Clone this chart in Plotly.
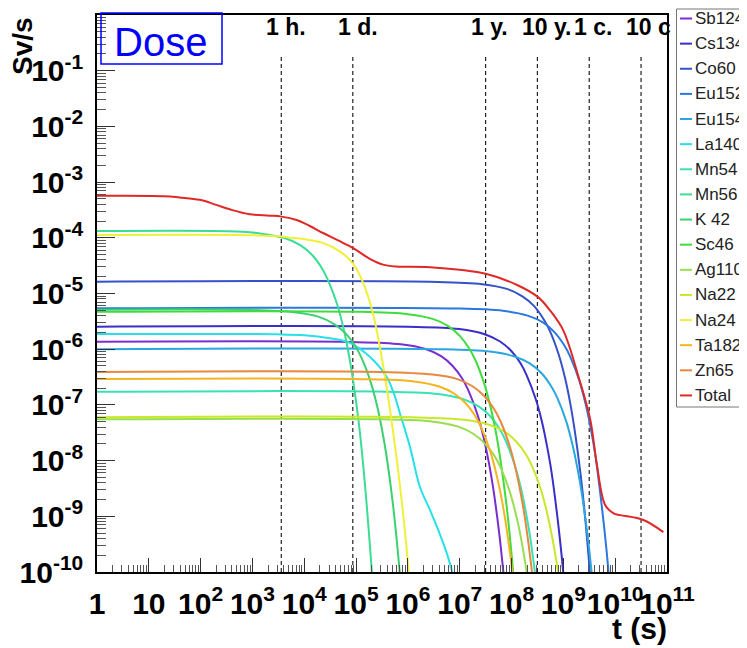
import numpy as np
import plotly.graph_objects as go

# ---------------- data ----------------
names = ["Sb124", "Cs134", "Co60", "Eu152", "Eu154", "La140", "Mn54", "Mn56",
         "K 42", "Sc46", "Ag110m", "Na22", "Na24", "Ta182", "Zn65", "Total"]
colors = ["#7a2dd0", "#3a2fc8", "#3552c8", "#2a78e0", "#2aa6e0", "#28e0e8",
          "#38e2b4", "#3cdc94", "#3cd070", "#40dc3c", "#9ade50", "#c8e82a",
          "#f0f03a", "#f5b420", "#e8883c", "#e02828"]

t_sb124 = [1, 7.3e4, 7.3e5, 2.19e6, 4.38e6, 7.3e6, 1.1e7, 1.46e7, 2.19e7, 2.92e7, 3.65e7, 4.38e7, 5.84e7, 7.3e7]
d_sb124 = [1.36e-6, 1.35e-6, 1.23e-6, 1.01e-6, 7.5e-7, 5.0e-7, 3.04e-7, 1.84e-7, 6.8e-8, 2.5e-8, 9.2e-9, 3.4e-9, 4.6e-10, 6.2e-11]

t_cs134 = [1, 9.8e5, 9.8e6, 2.94e7, 5.9e7, 9.8e7, 1.47e8, 1.96e8, 2.94e8, 3.92e8, 4.9e8, 5.9e8, 7.8e8, 9.8e8, 1.18e9]
d_cs134 = [2.54e-6, 2.53e-6, 2.3e-6, 1.88e-6, 1.39e-6, 9.4e-7, 5.7e-7, 3.4e-7, 1.26e-7, 4.7e-8, 1.71e-8, 6.3e-9, 8.5e-10, 1.15e-10, 1.6e-11]

t_co60 = [1, 2.7e6, 2.7e7, 8.1e7, 1.62e8, 2.7e8, 4.05e8, 5.4e8, 8.1e8, 1.08e9, 1.35e9, 1.62e9, 2.16e9, 2.7e9, 3.24e9, 3.78e9]
d_co60 = [1.63e-5, 1.62e-5, 1.47e-5, 1.21e-5, 8.9e-6, 6.0e-6, 3.6e-6, 2.2e-6, 8.1e-7, 3.0e-7, 1.1e-7, 4.0e-8, 5.5e-9, 7.4e-10, 1.0e-10, 1.35e-11]

t_eu152 = [1, 6.8e6, 6.8e7, 2.04e8, 4.1e8, 6.8e8, 1.02e9, 1.36e9, 2.04e9, 2.72e9, 3.4e9, 4.1e9, 5.4e9, 6.8e9, 8.2e9]
d_eu152 = [5.42e-6, 5.4e-6, 4.9e-6, 4.0e-6, 3.0e-6, 2.0e-6, 1.21e-6, 7.3e-7, 2.7e-7, 9.9e-8, 3.66e-8, 1.34e-8, 1.8e-9, 2.5e-10, 3.3e-11]

t_eu154 = [1, 3.8e6, 3.8e7, 1.14e8, 2.28e8, 3.8e8, 5.7e8, 7.6e8, 1.14e9, 1.52e9, 1.9e9, 2.28e9, 3.04e9, 3.8e9]
d_eu154 = [1.0e-6, 1.0e-6, 9.05e-7, 7.4e-7, 5.5e-7, 3.7e-7, 2.23e-7, 1.35e-7, 5.0e-8, 1.83e-8, 6.7e-9, 2.5e-9, 3.4e-10, 4.6e-11]

t_la140 = [1, 3e3, 1e4, 3.1e4, 7.6e4, 1.84e5, 3.87e5, 5.5e5, 7e5, 1.09e6, 1.7e6, 2.66e6, 3.85e6, 5.6e6, 6.5e6, 7.6e6]
d_la140 = [1.87e-6, 1.85e-6, 1.78e-6, 1.57e-6, 1.3e-6, 7.3e-7, 3.2e-7, 1.5e-7, 7.1e-8, 1.8e-8, 3.4e-9, 1.3e-9, 5.7e-10, 2.2e-10, 1.4e-10, 8e-11]

t_mn54 = [1, 3.8e5, 3.8e6, 1.14e7, 2.28e7, 3.8e7, 5.7e7, 7.6e7, 1.14e8, 1.52e8, 1.9e8, 2.28e8, 3.04e8]
d_mn54 = [1.73e-7, 1.72e-7, 1.57e-7, 1.28e-7, 9.5e-8, 6.4e-8, 3.9e-8, 2.34e-8, 8.6e-9, 3.2e-9, 1.16e-9, 4.3e-10, 5.8e-11]

t_mn56 = [1, 500, 1400, 4300, 8500, 1.42e4, 2.13e4, 2.84e4, 4.26e4, 5.7e4, 7.1e4, 8.5e4, 1.14e5, 1.42e5, 1.7e5, 2.0e5, 2.3e5]
d_mn56 = [1.32e-4, 1.3e-4, 1.2e-4, 9.8e-5, 7.3e-5, 4.9e-5, 2.95e-5, 1.78e-5, 6.6e-6, 2.4e-6, 8.9e-7, 3.3e-7, 4.4e-8, 5.9e-9, 8.1e-10, 1.1e-10, 1.5e-11]

t_k42 = [1, 640, 6.4e3, 1.92e4, 3.84e4, 6.4e4, 9.6e4, 1.28e5, 1.92e5, 2.56e5, 3.2e5, 3.84e5, 5.12e5, 6.4e5, 7.7e5]
d_k42 = [5.1e-6, 5.1e-6, 4.6e-6, 3.8e-6, 2.8e-6, 1.88e-6, 1.14e-6, 6.9e-7, 2.54e-7, 9.4e-8, 3.4e-8, 1.26e-8, 1.7e-9, 2.3e-10, 3.2e-11]

t_sc46 = [1, 1e5, 1e6, 3e6, 6e6, 1e7, 1.5e7, 2e7, 3e7, 4e7, 5e7, 6e7, 8e7, 1e8, 1.2e8]
d_sc46 = [4.7e-6, 4.7e-6, 4.25e-6, 3.5e-6, 2.6e-6, 1.73e-6, 1.05e-6, 6.4e-7, 2.34e-7, 8.6e-8, 3.2e-8, 1.16e-8, 1.58e-9, 2.1e-10, 2.9e-11]

t_ag110m = [1, 3.1e5, 3.1e6, 9.3e6, 1.86e7, 3.1e7, 4.65e7, 6.2e7, 9.3e7, 1.24e8, 1.55e8, 1.86e8, 2.17e8]
d_ag110m = [5.5e-8, 5.5e-8, 5.0e-8, 4.07e-8, 3.0e-8, 2.0e-8, 1.23e-8, 7.4e-9, 2.7e-9, 1.0e-9, 3.7e-10, 1.36e-10, 5.0e-11]

t_na22 = [1, 1.23e6, 1.23e7, 3.7e7, 7.4e7, 1.23e8, 1.85e8, 2.46e8, 3.7e8, 4.9e8, 6.15e8, 7.4e8, 8.6e8]
d_na22 = [6.0e-8, 6.0e-8, 5.4e-8, 4.4e-8, 3.3e-8, 2.2e-8, 1.34e-8, 8.1e-9, 3.0e-9, 1.1e-9, 4.0e-10, 1.5e-10, 5.5e-11]

t_na24 = [1, 1000, 3.7e3, 2.2e4, 5e4, 8.8e4, 1.37e5, 2.14e5, 3.33e5, 5.2e5, 7.55e5, 1.01e6, 1.1e6]
d_na24 = [1.12e-4, 1.11e-4, 1.05e-4, 8.2e-5, 5.6e-5, 3.4e-5, 1.55e-5, 4.2e-6, 5.0e-7, 3.2e-8, 2.0e-9, 1.3e-10, 4e-11]

t_ta182 = [1, 1.3e5, 1.3e6, 3.9e6, 7.8e6, 1.3e7, 1.95e7, 2.6e7, 3.9e7, 5.2e7, 6.5e7, 7.8e7, 1.04e8, 1.3e8]
d_ta182 = [2.92e-7, 2.9e-7, 2.64e-7, 2.16e-7, 1.6e-7, 1.07e-7, 6.5e-8, 3.9e-8, 1.45e-8, 5.3e-9, 1.97e-9, 7.2e-10, 9.8e-11, 1.3e-11]

t_zn65 = [1, 3e5, 3e6, 9e6, 1.8e7, 3e7, 4.5e7, 6e7, 9e7, 1.2e8, 1.5e8, 1.8e8, 2.4e8, 3e8]
d_zn65 = [3.9e-7, 3.9e-7, 3.5e-7, 2.9e-7, 2.14e-7, 1.43e-7, 8.7e-8, 5.3e-8, 1.94e-8, 7.1e-9, 2.6e-9, 9.7e-10, 1.3e-10, 1.8e-11]

t_total = [1, 20, 39, 96, 200, 363, 885, 2150, 3630, 7.1e3, 1.28e4, 2.3e4, 4.5e4, 8.8e4, 1.84e5, 3.3e5, 6e5,
           2.66e6, 3.3e7, 1.28e8, 3.25e8, 5.5e8, 9.9e8, 2.0e9, 3.3e9, 4.4e9, 6.4e9, 9.3e9, 1.25e10, 3.5e10, 8.5e10]
d_total = [5.7e-4, 5.6e-4, 5.3e-4, 4.8e-4, 3.9e-4, 3.25e-4, 2.64e-4, 2.5e-4, 2.4e-4, 2.09e-4, 1.63e-4, 1.22e-4, 9.0e-5, 6.5e-5, 4.2e-5, 3.3e-5, 3.05e-5,
           2.95e-5, 2.24e-5, 1.42e-5, 8.6e-6, 5.0e-6, 2.2e-6, 3.0e-7, 5.5e-8, 8.9e-9, 1.6e-9, 1.13e-9, 1.05e-9, 8.6e-10, 5.2e-10]

ref_times = [3600, 86400, 3.156e7, 3.156e8, 3.156e9, 3.156e10]
ref_labels = ["1 h.", "1 d.", "1 y.", "10 y.", "1 c.", "10 c."]

x_tickvals = [10.0 ** k for k in range(0, 12)]
x_ticktext = ["1", "10"] + ["10<sup>%d</sup>" % k for k in range(2, 12)]
y_tickvals = [10.0 ** k for k in range(-10, 1)]
y_ticktext = ["10<sup>%d</sup>" % k for k in range(-10, 0)] + ["1"]

series = [
    (t_sb124, d_sb124), (t_cs134, d_cs134), (t_co60, d_co60), (t_eu152, d_eu152),
    (t_eu154, d_eu154), (t_la140, d_la140), (t_mn54, d_mn54), (t_mn56, d_mn56),
    (t_k42, d_k42), (t_sc46, d_sc46), (t_ag110m, d_ag110m), (t_na22, d_na22),
    (t_na24, d_na24), (t_ta182, d_ta182), (t_zn65, d_zn65), (t_total, d_total),
]

# ---------------- layout geometry (page pixels) ----------------
PAGE_W, PAGE_H = 747, 648
OFF = 8                       # default page body margin
W, H = PAGE_W - OFF, PAGE_H - OFF
L, R, T, B = 97, 667, 15, 572  # plot-area edges on the page
FONT = "Liberation Sans, Arial, Helvetica, sans-serif"


def px_x(p):
    return (p - L) / (R - L)


def px_y(p):
    return (B - p) / (B - T)


fig = go.Figure()

# vertical dashed reference lines
for rt in ref_times:
    fig.add_trace(go.Scatter(x=[rt, rt], y=[1e-10, 0.2], mode="lines",
                             line=dict(color="#222222", width=1.2, dash="4px,3px"),
                             hoverinfo="skip", showlegend=False))

for (tx, dy), nm, col in zip(series, names, colors):
    fig.add_trace(go.Scatter(x=tx, y=dy, mode="lines", name=nm,
                             line=dict(color=col, width=2, shape="spline", smoothing=1.0),
                             showlegend=False))

annotations = []
shapes = []

# reference line labels
for rt, lab in zip(ref_times, ref_labels):
    a = dict(x=np.log10(rt), y=px_y(27), xref="x", yref="paper", text=lab,
             showarrow=False, xanchor="left", yanchor="middle", xshift=-17,
             font=dict(family=FONT, size=23, color="black", weight="bold"))
    if lab == "10 c.":
        a.update(width=45, align="left")
    annotations.append(a)

# "Dose" box
shapes.append(dict(type="rect", xref="paper", yref="paper",
                   x0=px_x(101), x1=px_x(222), y0=px_y(64), y1=px_y(13),
                   line=dict(color="#0000ff", width=1.5), fillcolor="rgba(0,0,0,0)"))
annotations.append(dict(x=px_x(160), y=px_y(42), xref="paper", yref="paper", text="Dose",
                        showarrow=False, xanchor="center", yanchor="middle",
                        font=dict(family=FONT, size=40, color="#0000ff")))

# axis titles
annotations.append(dict(x=px_x(23), y=px_y(46), xref="paper", yref="paper", text="Sv/s",
                        showarrow=False, textangle=-90, xanchor="center", yanchor="middle",
                        font=dict(family=FONT, size=28, color="black", weight="bold")))
annotations.append(dict(x=px_x(669), y=px_y(628), xref="paper", yref="paper", text="t (s)",
                        showarrow=False, xanchor="right", yanchor="middle",
                        font=dict(family=FONT, size=30, color="black", weight="bold")))

# legend box (manual, ROOT style)
shapes.append(dict(type="rect", xref="paper", yref="paper",
                   x0=px_x(676.5), x1=px_x(770), y0=px_y(407), y1=px_y(9),
                   line=dict(color="#777777", width=1), fillcolor="white", layer="below"))
for i, (nm, col) in enumerate(zip(names, colors)):
    yy = 18.5 + 25.13 * i
    shapes.append(dict(type="line", xref="paper", yref="paper",
                       x0=px_x(680), x1=px_x(692), y0=px_y(yy), y1=px_y(yy),
                       line=dict(color=col, width=2)))
    annotations.append(dict(x=px_x(693), y=px_y(yy), xref="paper", yref="paper", text=nm,
                            showarrow=False, xanchor="left", yanchor="middle",
                            font=dict(family=FONT, size=17, color="#222222")))

x_minor = [m * 10.0 ** k for k in range(0, 11) for m in range(2, 10)]
y_minor = [m * 10.0 ** k for k in range(-10, 0) for m in range(2, 10)]

fig.update_layout(
    width=W, height=H,
    margin=dict(l=L - OFF, r=PAGE_W - R, t=T - OFF, b=PAGE_H - B, pad=0, autoexpand=False),
    plot_bgcolor="white", paper_bgcolor="white",
    showlegend=False, hovermode=False,
    annotations=annotations, shapes=shapes,
    xaxis=dict(type="log", range=[0, 11], tickvals=x_tickvals, ticktext=x_ticktext,
               tickangle=0, automargin=False,
               ticks="inside", ticklen=14, tickwidth=1, tickcolor="#333333",
               minor=dict(tickvals=x_minor, ticks="inside", ticklen=7, tickwidth=1, tickcolor="#555555"),
               showline=True, linecolor="black", linewidth=1.5, mirror=True,
               showgrid=False, zeroline=False, ticklabelstandoff=4,
               tickfont=dict(family=FONT, size=30, color="black", weight="bold")),
    yaxis=dict(type="log", range=[-10, 0], tickvals=y_tickvals, ticktext=y_ticktext,
               automargin=False,
               ticks="inside", ticklen=18, tickwidth=1, tickcolor="#333333",
               minor=dict(tickvals=y_minor, ticks="inside", ticklen=9, tickwidth=1, tickcolor="#555555"),
               showline=True, linecolor="black", linewidth=1.5, mirror=True,
               showgrid=False, zeroline=False, ticklabelstandoff=6,
               tickfont=dict(family=FONT, size=30, color="black", weight="bold")),
)

fig.write_html("out.html")
